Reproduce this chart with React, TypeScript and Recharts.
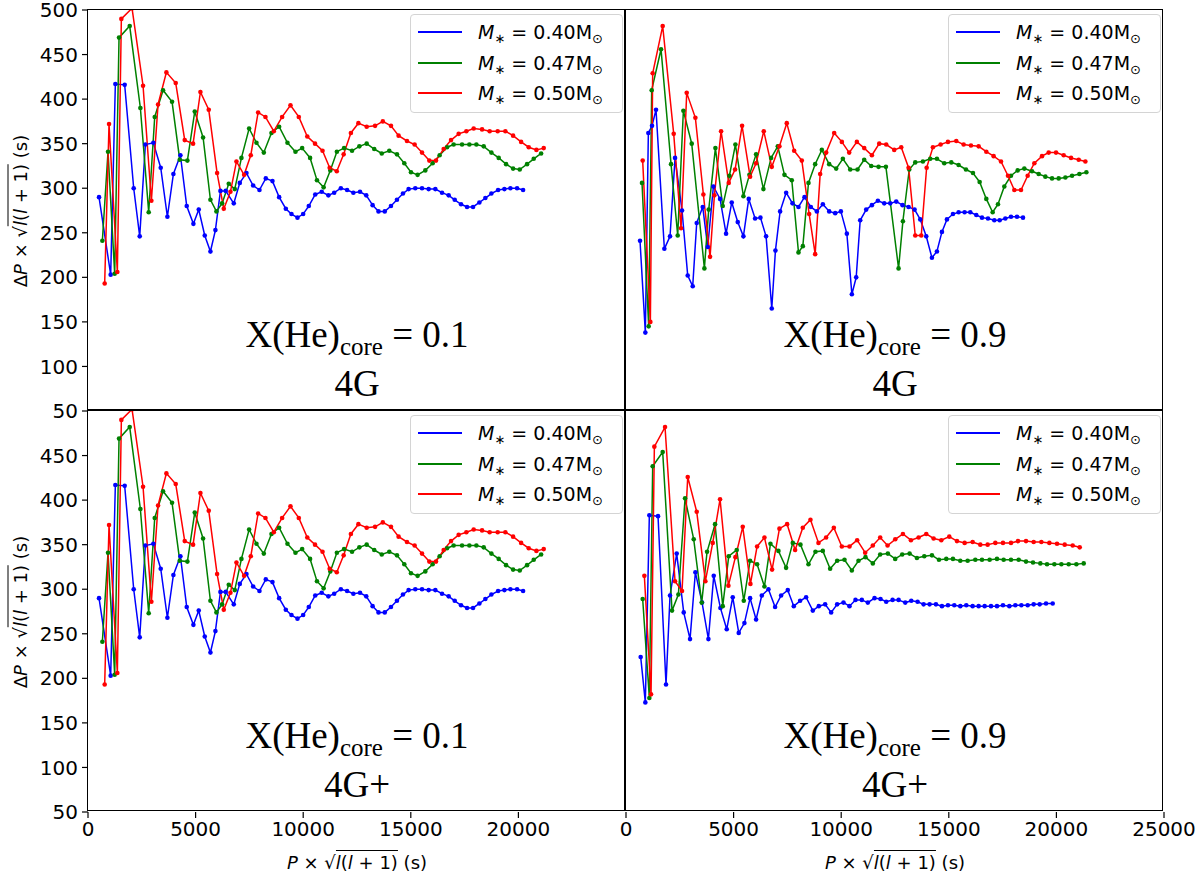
import { LineChart, Line, XAxis, YAxis, Legend } from "recharts";

// ---- Data: [P*sqrt(l(l+1)) (s), dP*sqrt(l(l+1)) (s)] ----
type Pt = [number, number];

// X(He)core = 0.1, 4G (identical curves in the 4G+ panel)
const CORE01_M040: Pt[] = [
  [512, 290], [1054, 203], [1271, 417], [1705, 416], [2124, 300], [2403, 246], [2666, 349], [3038, 351],
  [3379, 323], [3689, 268], [3968, 316], [4294, 337], [4588, 280], [4898, 260], [5146, 276], [5425, 247],
  [5689, 229], [5921, 253], [6154, 297], [6400, 297], [6774, 283], [7053, 306], [7363, 317], [7673, 303],
  [7967, 298], [8262, 311], [8572, 308], [8882, 290], [9192, 277], [9455, 271], [9734, 267], [9998, 271],
  [10260, 280], [10560, 293], [10860, 296], [11170, 292], [11440, 295], [11750, 300], [12040, 298], [12330, 295],
  [12640, 296], [12930, 292], [13225, 281], [13500, 274], [13790, 274], [14078, 280], [14357, 287], [14636, 294],
  [14899, 299], [15209, 300], [15521, 300], [15829, 299], [16140, 299], [16451, 295], [16760, 292], [17040, 287],
  [17335, 282], [17614, 279], [17893, 279], [18186, 284], [18465, 289], [18744, 294], [19056, 298], [19349, 299],
  [19628, 300], [19939, 300], [20218, 298],
];
const CORE01_M047: Pt[] = [
  [667, 241], [930, 341], [1240, 204], [1442, 469], [1938, 482], [2434, 390], [2821, 273], [3100, 380],
  [3488, 410], [3906, 397], [4263, 332], [4619, 331], [4960, 386], [5348, 357], [5689, 287], [5968, 274],
  [6231, 283], [6541, 305], [6820, 299], [7130, 334], [7487, 367], [7828, 351], [8169, 340], [8525, 362],
  [8882, 369], [9269, 351], [9641, 341], [9951, 345], [10320, 334], [10640, 309], [10950, 301], [11260, 320],
  [11565, 341], [11900, 345], [12270, 342], [12610, 347], [12950, 350], [13300, 344], [13650, 339], [14000, 342],
  [14357, 338], [14698, 328], [15009, 318], [15316, 315], [15674, 320], [16015, 328], [16340, 337], [16684, 346],
  [16991, 349], [17381, 349], [17721, 349], [18047, 349], [18388, 347], [18744, 340], [19085, 334], [19428, 327],
  [19753, 322], [20062, 321], [20403, 327], [20713, 333], [21056, 339],
];
const CORE01_M050: Pt[] = [
  [775, 193], [977, 372], [1364, 206], [1550, 490], [2046, 502], [2558, 415], [2945, 286], [3255, 394],
  [3643, 430], [4077, 418], [4495, 354], [4883, 350], [5224, 408], [5611, 388], [5999, 317], [6309, 277],
  [6619, 296], [6898, 330], [7254, 315], [7564, 337], [7905, 385], [8246, 380], [8634, 364], [9021, 380],
  [9409, 393], [9796, 380], [10190, 358], [10550, 350], [10898, 342], [11230, 323], [11560, 319], [11880, 338],
  [12216, 362], [12565, 373], [12950, 369], [13340, 370], [13700, 375], [14079, 370], [14433, 359], [14823, 353],
  [15177, 349], [15521, 340], [15860, 331], [16172, 331], [16527, 344], [16870, 354], [17225, 361], [17581, 364],
  [17922, 367], [18312, 366], [18665, 364], [19037, 364], [19395, 364], [19753, 359], [20125, 352], [20481, 346],
  [20837, 343], [21177, 345],
];

// X(He)core = 0.9, 4G
const CORE09_4G_M040: Pt[] = [
  [651, 241], [899, 138], [1039, 362], [1209, 370], [1395, 388], [1783, 232], [2046, 246], [2279, 334],
  [2604, 275], [2868, 202], [3100, 190], [3286, 261], [3565, 279], [3798, 234], [4061, 302], [4371, 288],
  [4650, 249], [4914, 284], [5193, 262], [5456, 246], [5704, 288], [5999, 266], [6247, 267], [6510, 246],
  [6774, 165], [6944, 230], [7161, 274], [7442, 295], [7737, 283], [8015, 279], [8294, 290], [8589, 279],
  [8868, 274], [9147, 282], [9442, 274], [9721, 272], [9984, 274], [10263, 249], [10496, 181], [10697, 200],
  [10883, 264], [11162, 276], [11426, 281], [11705, 286], [12000, 283], [12278, 283], [12557, 285], [12852, 281],
  [13131, 279], [13410, 276], [13673, 265], [13952, 246], [14216, 222], [14448, 229], [14681, 251], [14913, 265],
  [15193, 271], [15456, 273], [15734, 273], [15999, 273], [16278, 270], [16542, 267], [16821, 266], [17115, 264],
  [17363, 264], [17627, 266], [17890, 268], [18169, 268], [18448, 267],
];
const CORE09_4G_M047: Pt[] = [
  [744, 306], [1054, 145], [1194, 410], [1628, 456], [2093, 327], [2403, 247], [2666, 387], [3054, 350],
  [3643, 210], [3844, 276], [4154, 345], [4495, 280], [4805, 314], [5084, 349], [5456, 291], [5735, 315],
  [6045, 338], [6386, 299], [6743, 334], [7053, 347], [7363, 315], [7704, 309], [8015, 228], [8217, 235],
  [8480, 306], [8790, 327], [9100, 343], [9442, 327], [9767, 322], [10077, 333], [10418, 321], [10759, 321],
  [11069, 332], [11395, 325], [11736, 324], [12077, 324], [12666, 210], [12867, 263], [13162, 321], [13441, 329],
  [13797, 330], [14138, 333], [14448, 333], [14789, 328], [15116, 329], [15456, 326], [15798, 321], [16123, 317],
  [16433, 307], [16743, 288], [17038, 273], [17286, 282], [17580, 302], [17890, 314], [18200, 320], [18510, 322],
  [18867, 319], [19177, 316], [19487, 313], [19797, 311], [20107, 311], [20417, 312], [20727, 314], [21068, 316],
  [21393, 318],
];
const CORE09_4G_M050: Pt[] = [
  [775, 331], [1132, 150], [1240, 429], [1705, 482], [2217, 361], [2558, 255], [2821, 407], [3224, 379],
  [3596, 293], [3906, 223], [4108, 292], [4418, 364], [4774, 306], [5069, 321], [5394, 370], [5766, 313],
  [6045, 328], [6402, 364], [6774, 324], [7130, 347], [7471, 373], [7814, 342], [8170, 331], [8512, 271],
  [8790, 226], [9023, 316], [9302, 340], [9674, 362], [10031, 352], [10372, 340], [10728, 352], [11069, 345],
  [11426, 337], [11767, 350], [12092, 349], [12464, 343], [12790, 346], [13131, 323], [13441, 247], [13720, 247],
  [13970, 323], [14262, 346], [14620, 349], [14960, 352], [15348, 353], [15689, 349], [16030, 348], [16387, 347],
  [16743, 341], [17084, 336], [17425, 330], [17751, 314], [18045, 298], [18355, 298], [18665, 314], [18975, 328],
  [19331, 336], [19641, 340], [19983, 340], [20339, 337], [20680, 334], [21037, 332], [21347, 330],
];

// X(He)core = 0.9, 4G+
const CORE09_4GP_M040: Pt[] = [
  [682, 224], [899, 173], [1085, 383], [1488, 382], [1860, 193], [2046, 293], [2356, 340], [2682, 274],
  [2976, 244], [3224, 319], [3534, 285], [3829, 244], [4077, 315], [4387, 279], [4681, 255], [4960, 291],
  [5239, 251], [5503, 262], [5766, 290], [6045, 266], [6309, 293], [6619, 300], [6929, 280], [7208, 293],
  [7518, 299], [7797, 281], [8091, 287], [8370, 291], [8680, 276], [8959, 281], [9254, 283], [9533, 274],
  [9812, 283], [10106, 285], [10385, 281], [10664, 288], [10959, 288], [11238, 285], [11548, 290], [11827, 289],
  [12093, 286], [12388, 288], [12667, 288], [12977, 285], [13256, 287], [13550, 286], [13829, 283], [14108, 283],
  [14403, 283], [14682, 281], [14961, 282], [15255, 282], [15534, 281], [15813, 282], [16108, 281], [16387, 281],
  [16666, 281], [16960, 281], [17239, 281], [17518, 282], [17813, 281], [18092, 282], [18371, 282], [18665, 282],
  [18944, 283], [19223, 283], [19518, 284], [19828, 284],
];
const CORE09_4GP_M047: Pt[] = [
  [775, 289], [1085, 178], [1240, 438], [1705, 454], [2139, 276], [2434, 294], [2744, 402], [3147, 356],
  [3519, 285], [3767, 342], [4139, 373], [4495, 281], [4774, 337], [5146, 344], [5472, 287], [5766, 332],
  [6092, 328], [6433, 303], [6712, 351], [7084, 343], [7440, 324], [7750, 352], [8107, 350], [8479, 328],
  [8804, 342], [9145, 343], [9486, 323], [9812, 332], [10153, 333], [10494, 321], [10804, 332], [11129, 336],
  [11470, 329], [11811, 339], [12168, 340], [12509, 334], [12834, 339], [13178, 340], [13519, 335], [13860, 337],
  [14217, 338], [14542, 333], [14883, 334], [15193, 334], [15534, 332], [15875, 332], [16232, 333], [16542, 333],
  [16898, 333], [17239, 334], [17549, 333], [17890, 333], [18247, 333], [18588, 331], [18913, 330], [19254, 329],
  [19564, 328], [19905, 328], [20231, 328], [20572, 328], [20928, 328], [21269, 329],
];
const CORE09_4GP_M050: Pt[] = [
  [853, 315], [1163, 182], [1318, 460], [1814, 482], [2279, 309], [2604, 298], [2868, 426], [3286, 387],
  [3689, 309], [4030, 352], [4371, 401], [4759, 304], [5084, 336], [5425, 370], [5782, 306], [6092, 348],
  [6433, 358], [6789, 322], [7130, 368], [7487, 373], [7859, 344], [8215, 369], [8572, 378], [8944, 352],
  [9300, 358], [9657, 369], [10029, 348], [10385, 348], [10742, 355], [11114, 341], [11470, 349], [11811, 358],
  [12155, 349], [12512, 356], [12868, 362], [13240, 355], [13597, 358], [13953, 362], [14294, 357], [14651, 355],
  [15023, 359], [15379, 354], [15736, 352], [16108, 353], [16464, 350], [16805, 350], [17162, 352], [17518, 352],
  [17890, 352], [18216, 354], [18588, 354], [18944, 353], [19301, 353], [19673, 352], [20029, 351], [20386, 350],
  [20758, 349], [21083, 347],
];

const MASSES = ["0.40", "0.47", "0.50"];
const COLORS = ["#0000ff", "#008000", "#ff0000"];

const X_TICKS_LEFT = [0, 5000, 10000, 15000, 20000];
const X_TICKS_RIGHT = [0, 5000, 10000, 15000, 20000, 25000];
const Y_TICKS_TOP = [50, 100, 150, 200, 250, 300, 350, 400, 450, 500];
const Y_TICKS_BOTTOM = [50, 100, 150, 200, 250, 300, 350, 400, 450];

// ---- Layout ----

const PLOT_W = 538;
const PLOT_H = 401;
const LEFT_X = 88;
const MID_X = 626;
const TOP_Y = 10;
const MID_Y = 411;
const RIGHT_CHART_X = 596; // right charts start a bit left so the "0" tick label is not cut

interface PanelDef {
  key: string;
  left: number;
  top: number;
  width: number;
  height: number;
  margin: { top: number; right: number; bottom: number; left: number };
  series: Pt[][];
  xTicks?: number[];
  yTicks?: number[];
  core: string;
  model: string;
}

const PANELS: PanelDef[] = [
  {
    key: "tl", left: 0, top: 0, width: MID_X, height: 432,
    margin: { top: TOP_Y, right: 0, bottom: 432 - TOP_Y - PLOT_H, left: LEFT_X - 60 },
    series: [CORE01_M040, CORE01_M047, CORE01_M050], yTicks: Y_TICKS_TOP, core: "0.1", model: "4G",
  },
  {
    key: "tr", left: RIGHT_CHART_X, top: 0, width: 1200 - RIGHT_CHART_X, height: 432,
    margin: {
      top: TOP_Y, right: 1200 - MID_X - PLOT_W, bottom: 432 - TOP_Y - PLOT_H, left: MID_X - RIGHT_CHART_X,
    },
    series: [CORE09_4G_M040, CORE09_4G_M047, CORE09_4G_M050], core: "0.9", model: "4G",
  },
  {
    key: "bl", left: 0, top: MID_Y, width: MID_X, height: 880 - MID_Y,
    margin: { top: 0, right: 0, bottom: 880 - MID_Y - PLOT_H - 40, left: LEFT_X - 60 },
    series: [CORE01_M040, CORE01_M047, CORE01_M050], xTicks: X_TICKS_LEFT, yTicks: Y_TICKS_BOTTOM,
    core: "0.1", model: "4G+",
  },
  {
    key: "br", left: RIGHT_CHART_X, top: MID_Y, width: 1200 - RIGHT_CHART_X, height: 880 - MID_Y,
    margin: {
      top: 0, right: 1200 - MID_X - PLOT_W, bottom: 880 - MID_Y - PLOT_H - 40, left: MID_X - RIGHT_CHART_X,
    },
    series: [CORE09_4GP_M040, CORE09_4GP_M047, CORE09_4GP_M050], xTicks: X_TICKS_RIGHT,
    core: "0.9", model: "4G+",
  },
];

const toRows = (pts: Pt[]) => pts.map(([x, y]) => ({ x, y }));
const isLeft = (p: PanelDef) => p.left === 0;
const isTop = (p: PanelDef) => p.top === 0;

// ---- Legend ----

function MassLegend() {
  return (
    <div style={styles.legendBox}>
      {MASSES.map((m, i) => (
        <div key={m} style={{ ...styles.legendRow, top: 2 + i * 30.5 }}>
          <span
            style={{
              display: "inline-block",
              width: 44,
              height: 2,
              marginLeft: 7,
              background: COLORS[i],
            }}
          />
          <span style={{ marginLeft: 16 }}>
            <i>M</i>
            <span style={styles.legendSub}>∗</span> = {m}M
            <span style={styles.legendSub}>⊙</span>
          </span>
        </div>
      ))}
    </div>
  );
}

function AxisTitle({ delta }: { delta: boolean }) {
  return (
    <span style={{ whiteSpace: "nowrap" }}>
      {delta ? "Δ" : ""}
      <i>P</i> × √
      <span style={{ borderTop: "1px solid #000", paddingTop: 1 }}>
        <i>l</i>(<i>l</i> + 1)
      </span>{" "}
      (s)
    </span>
  );
}

// ---- Component ----

function Panel({ p }: { p: PanelDef }) {
  const plotRight = isLeft(p) ? MID_X : MID_X + PLOT_W;
  const legendLeft = plotRight - 3 - 213 - p.left;
  const legendTop = isTop(p) ? 14 : 4;
  return (
    <div style={{ position: "absolute", left: p.left, top: p.top }}>
      <LineChart width={p.width} height={p.height} margin={p.margin}>
        <XAxis
          type="number"
          dataKey="x"
          domain={[0, 25000]}
          ticks={p.xTicks ?? X_TICKS_RIGHT}
          hide={!p.xTicks}
          allowDataOverflow
          interval={0}
          height={40}
          tickSize={6}
          tickMargin={4}
          axisLine={false}
          tickLine={{ stroke: "#000", strokeWidth: 1.2 }}
          tick={{ fill: "#000", fontSize: 20 }}
        />
        <YAxis
          type="number"
          domain={[50, 500]}
          ticks={p.yTicks ?? Y_TICKS_TOP}
          hide={!p.yTicks}
          allowDataOverflow
          interval={0}
          width={60}
          tickSize={6}
          tickMargin={4}
          axisLine={false}
          tickLine={{ stroke: "#000", strokeWidth: 1.2 }}
          tick={{ fill: "#000", fontSize: 20 }}
        />
        {p.series.map((pts, i) => (
          <Line
            key={MASSES[i]}
            data={toRows(pts)}
            dataKey="y"
            name={MASSES[i]}
            type="linear"
            stroke={COLORS[i]}
            strokeWidth={1.5}
            dot={{ r: 2.3, fill: COLORS[i], stroke: COLORS[i], strokeWidth: 0 }}
            activeDot={false}
            isAnimationActive={false}
          />
        ))}
        <Legend
          layout="horizontal"
          verticalAlign="middle"
          align="center"
          content={() => <MassLegend />}
          wrapperStyle={{ left: legendLeft, top: legendTop, width: 213, height: 99 }}
        />
      </LineChart>
    </div>
  );
}

export default function App() {
  return (
    <div style={styles.page}>
      {PANELS.map((p) => (
        <Panel key={p.key} p={p} />
      ))}

      {/* panel frames */}
      {PANELS.map((p) => (
        <div
          key={`frame-${p.key}`}
          style={{ ...styles.frame, left: isLeft(p) ? LEFT_X : MID_X, top: isTop(p) ? TOP_Y : MID_Y }}
        />
      ))}

      {/* annotations */}
      {PANELS.map((p) => (
        <div
          key={`note-${p.key}`}
          style={{ ...styles.note, left: isLeft(p) ? LEFT_X : MID_X, top: isTop(p) ? 312 : 713 }}
        >
          <div>
            X(He)<span style={styles.noteSub}>core</span> = {p.core}
          </div>
          <div>{p.model}</div>
        </div>
      ))}

      {/* axis labels */}
      {[TOP_Y + PLOT_H / 2, MID_Y + PLOT_H / 2].map((cy) => (
        <div key={`yl-${cy}`} style={{ ...styles.yLabel, top: cy }}>
          <AxisTitle delta />
        </div>
      ))}
      {[LEFT_X + PLOT_W / 2, MID_X + PLOT_W / 2].map((cx) => (
        <div key={`xl-${cx}`} style={{ ...styles.xLabel, left: cx }}>
          <AxisTitle delta={false} />
        </div>
      ))}
    </div>
  );
}

// ---- Styles ----

const styles: Record<string, React.CSSProperties> = {
  page: {
    position: "absolute",
    left: 0,
    top: 0,
    width: 1200,
    height: 880,
    background: "#fff",
    fontFamily: "'DejaVu Sans', sans-serif",
    color: "#000",
    overflow: "hidden",
  },
  frame: {
    position: "absolute",
    width: PLOT_W,
    height: PLOT_H,
    boxSizing: "border-box",
    border: "1.5px solid #000",
    pointerEvents: "none",
    marginLeft: -0.75,
    marginTop: -0.75,
  },
  legendBox: {
    position: "relative",
    width: 213,
    height: 99,
    boxSizing: "border-box",
    border: "1px solid #d4d4d4",
    borderRadius: 4,
    background: "rgba(255,255,255,0.8)",
    fontSize: 19,
  },
  legendRow: {
    position: "absolute",
    left: 0,
    height: 30,
    display: "flex",
    alignItems: "center",
    whiteSpace: "nowrap",
  },
  legendSub: {
    fontSize: 13,
    position: "relative",
    top: 4,
  },
  note: {
    position: "absolute",
    width: PLOT_W,
    textAlign: "center",
    fontFamily: "'Liberation Serif', serif",
    fontSize: 37,
    lineHeight: "45px",
  },
  noteSub: {
    fontSize: 25,
    position: "relative",
    top: 8,
  },
  yLabel: {
    position: "absolute",
    left: 20,
    fontSize: 18,
    transform: "translate(-50%, -50%) rotate(-90deg)",
    whiteSpace: "nowrap",
  },
  xLabel: {
    position: "absolute",
    top: 852,
    fontSize: 18,
    transform: "translateX(-50%)",
    whiteSpace: "nowrap",
  },
};
